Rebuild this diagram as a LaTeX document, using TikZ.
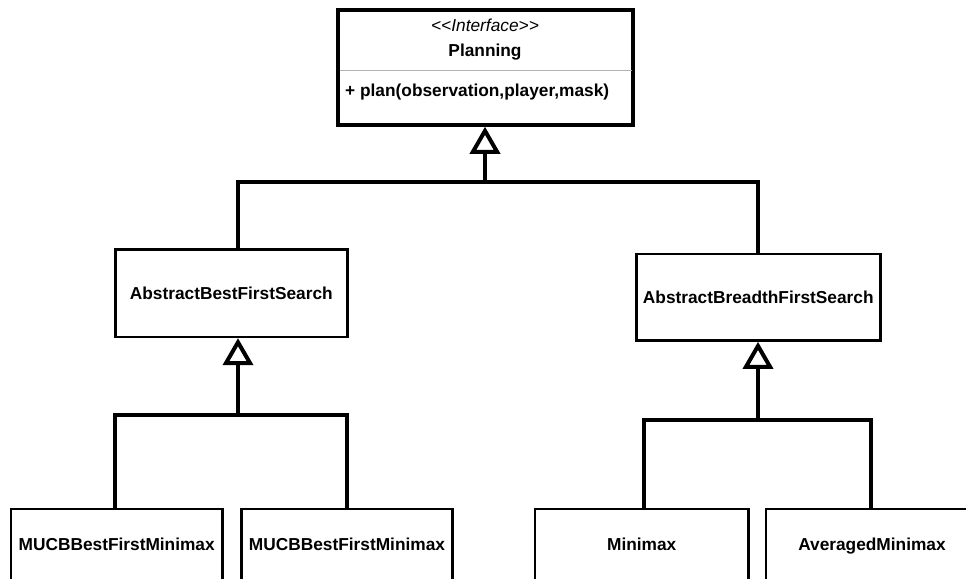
\documentclass[tikz,border=0pt]{standalone}
\usepackage{fontspec}
\setmainfont{Liberation Sans}
\usetikzlibrary{arrows.meta}
\begin{document}
\begin{tikzpicture}[x=1pt,y=-1pt,
  txt/.style={font=\fontsize{17.3}{20}\selectfont\bfseries, inner sep=0pt},
  classbox/.style={draw=black, line width=2.4pt, fill=white, inner sep=0pt, txt},
  leafbox/.style={classbox, minimum height=76pt, text height=12.5pt, text depth=6.1pt},
  link/.style={line width=4pt, line cap=butt, line join=miter},
  inherit/.style={link, -{Triangle[open, length=27pt, width=30pt]}}
]
\useasboundingbox (0,0) rectangle (966,578);

% interface
\node[draw, line width=4pt, fill=white, minimum width=295pt, minimum height=114.5pt, inner sep=0pt] (planning) at (485.5,67.5) {};
\node[font=\fontsize{17.3}{20}\selectfont\itshape, inner sep=0pt] (stereo) at (485,25) {<{}<Interface>{}>};
\node[txt] (pname) at (485,52) {Planning};
\draw[black!30, line width=1pt] (340,71) -- (631.5,71);
\node[txt, anchor=west] (pop) at (345,92) {+ plan(observation,player,mask)};

% abstract classes
\node[classbox, minimum width=232pt, minimum height=87.3pt] (bfs) at (231.3,293.3) {AbstractBestFirstSearch};
\node[classbox, minimum width=244pt, minimum height=86.7pt] (brfs) at (758.3,297.3) {AbstractBreadthFirstSearch};

% concrete classes
\node[leafbox, minimum width=211.3pt] (m1) at (116.7,547) {MUCBBestFirstMinimax};
\node[leafbox, minimum width=210.7pt] (m2) at (347,547) {MUCBBestFirstMinimax};
\node[leafbox, minimum width=213.3pt] (mm) at (641.7,547) {Minimax};
\node[leafbox, minimum width=212pt] (am) at (872,547) {AveragedMinimax};

% junction points of the generalisation trees
\coordinate (hubTop) at (485,182);
\coordinate (hubBFS) at (238,415);
\coordinate (hubBrFS) at (758,420);

% generalisation links
\draw[inherit] (hubTop) -- (hubTop |- planning.south);
\draw[link] (bfs.north -| hubBFS) |- (hubTop) -| (brfs.north -| hubBrFS);

\draw[inherit] (hubBFS) -- (hubBFS |- bfs.south);
\draw[link] ([xshift=-2pt]m1.north) |- (hubBFS) -| (m2.north);

\draw[inherit] (hubBrFS) -- (hubBrFS |- brfs.south);
\draw[link] ([xshift=2pt]mm.north) |- (hubBrFS) -| ([xshift=-1.5pt]am.north);
\end{tikzpicture}
\end{document}
